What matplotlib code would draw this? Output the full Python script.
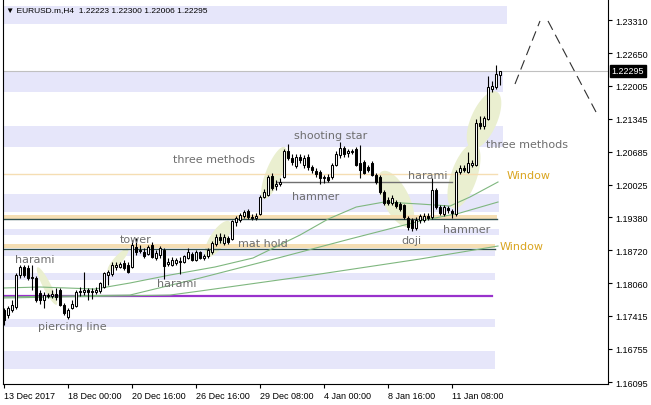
import numpy as np
import matplotlib.pyplot as plt
from matplotlib.patches import Polygon

# EURUSD H4 candles
opens = [1.1753, 1.1743, 1.1753, 1.1759, 1.1823, 1.1839, 1.1837, 1.1819, 1.1817, 1.1787,
         1.1773, 1.1783, 1.1781, 1.1785, 1.1793, 1.1763, 1.1739, 1.1757, 1.1761, 1.1789,
         1.1789, 1.1793, 1.1789, 1.1789, 1.1791, 1.1799, 1.1823, 1.1825, 1.1839, 1.1839,
         1.1847, 1.1843, 1.1839, 1.1879, 1.1873, 1.1869, 1.1865, 1.1883, 1.1857, 1.1863,
         1.1873, 1.1845, 1.1843, 1.1847, 1.1851, 1.1849, 1.1857, 1.1865, 1.1853, 1.1869,
         1.1857, 1.1861, 1.1869, 1.1885, 1.1899, 1.1887, 1.1897, 1.1895, 1.1929, 1.1933,
         1.1941, 1.1951, 1.1939, 1.1937, 1.1945, 1.1979, 1.1983, 1.2021, 1.2001, 1.2005,
         1.2019, 1.2069, 1.2057, 1.2041, 1.2059, 1.2043, 1.2059, 1.2039, 1.2031, 1.2029,
         1.2017, 1.2019, 1.2019, 1.2043, 1.2061, 1.2075, 1.2065, 1.2067, 1.2073, 1.2047,
         1.2049, 1.2039, 1.2047, 1.2023, 1.2019, 1.1989, 1.1973, 1.1967, 1.1969, 1.1965,
         1.1963, 1.1937, 1.1933, 1.1917, 1.1933, 1.1933, 1.1941, 1.1939, 1.1993, 1.1959,
         1.1945, 1.1957, 1.1951, 1.1945, 1.2029, 1.2037, 1.2029, 1.2043, 1.2043, 1.2125,
         1.2119, 1.2133, 1.2193, 1.2197, 1.22223]
highs = [1.1757, 1.1761, 1.1773, 1.1827, 1.1843, 1.1843, 1.1843, 1.1843, 1.1821, 1.1793,
         1.1789, 1.1787, 1.1793, 1.1797, 1.1797, 1.1767, 1.1757, 1.1773, 1.1793, 1.1799,
         1.1829, 1.1797, 1.1797, 1.1799, 1.1809, 1.1829, 1.1833, 1.1849, 1.1849, 1.1849,
         1.1853, 1.1849, 1.1893, 1.1897, 1.1883, 1.1877, 1.1883, 1.1889, 1.1873, 1.1881,
         1.1877, 1.1857, 1.1859, 1.1857, 1.1859, 1.1863, 1.1877, 1.1869, 1.1873, 1.1871,
         1.1865, 1.1877, 1.1891, 1.1905, 1.1907, 1.1905, 1.1901, 1.1933, 1.1941, 1.1947,
         1.1953, 1.1955, 1.1945, 1.1947, 1.1983, 1.1995, 1.2023, 1.2027, 1.2013, 1.2017,
         1.2073, 1.2083, 1.2063, 1.2063, 1.2063, 1.2061, 1.2063, 1.2043, 1.2037, 1.2033,
         1.2023, 1.2025, 1.2047, 1.2069, 1.2087, 1.2079, 1.2073, 1.2073, 1.2077, 1.2081,
         1.2053, 1.2043, 1.2051, 1.2027, 1.2023, 1.1993, 1.1979, 1.1983, 1.1973, 1.1969,
         1.1965, 1.1941, 1.1937, 1.1939, 1.1945, 1.1947, 1.1947, 1.2017, 1.1997, 1.1963,
         1.1963, 1.1961, 1.1955, 1.2033, 1.2043, 1.2043, 1.2067, 1.2053, 1.2133, 1.2139,
         1.2139, 1.2219, 1.2209, 1.2241, 1.22300]
lows = [1.1723, 1.1737, 1.1749, 1.1755, 1.1817, 1.1819, 1.1813, 1.1793, 1.1769, 1.1765,
        1.1757, 1.1777, 1.1777, 1.1773, 1.1761, 1.1743, 1.1735, 1.1755, 1.1759, 1.1781,
        1.1783, 1.1773, 1.1775, 1.1785, 1.1787, 1.1797, 1.1803, 1.1821, 1.1833, 1.1837,
        1.1833, 1.1827, 1.1837, 1.1863, 1.1867, 1.1857, 1.1863, 1.1857, 1.1853, 1.1857,
        1.1815, 1.1841, 1.1841, 1.1843, 1.1825, 1.1847, 1.1855, 1.1851, 1.1851, 1.1855,
        1.1853, 1.1857, 1.1865, 1.1881, 1.1887, 1.1883, 1.1885, 1.1893, 1.1921, 1.1929,
        1.1937, 1.1935, 1.1933, 1.1933, 1.1943, 1.1977, 1.1981, 1.1993, 1.1993, 1.2001,
        1.2017, 1.2053, 1.2043, 1.2037, 1.2047, 1.2037, 1.2033, 1.2027, 1.2019, 1.2005,
        1.2007, 1.2009, 1.2015, 1.2041, 1.2057, 1.2059, 1.2059, 1.2063, 1.2041, 1.2017,
        1.2025, 1.2029, 1.2021, 1.2005, 1.1985, 1.1963, 1.1963, 1.1963, 1.1957, 1.1951,
        1.1935, 1.1913, 1.1911, 1.1913, 1.1927, 1.1929, 1.1933, 1.1935, 1.1955, 1.1943,
        1.1941, 1.1947, 1.1937, 1.1941, 1.2025, 1.2029, 1.2027, 1.2039, 1.2041, 1.2113,
        1.2113, 1.2131, 1.2187, 1.2193, 1.22006]
closes = [1.1733, 1.1757, 1.1763, 1.1823, 1.1839, 1.1823, 1.1817, 1.1817, 1.1773, 1.1773,
          1.1783, 1.1781, 1.1785, 1.1779, 1.1763, 1.1747, 1.1753, 1.1765, 1.1789, 1.1791,
          1.1793, 1.1789, 1.1791, 1.1793, 1.1807, 1.1827, 1.1829, 1.1843, 1.1843, 1.1845,
          1.1837, 1.1829, 1.1883, 1.1869, 1.1871, 1.1861, 1.1879, 1.1859, 1.1867, 1.1877,
          1.1841, 1.1849, 1.1853, 1.1853, 1.1849, 1.1861, 1.1869, 1.1853, 1.1869, 1.1857,
          1.1861, 1.1873, 1.1887, 1.1899, 1.1893, 1.1899, 1.1889, 1.1931, 1.1937, 1.1943,
          1.1949, 1.1939, 1.1937, 1.1941, 1.1979, 1.1989, 1.2019, 1.1997, 1.2005, 1.2009,
          1.2069, 1.2057, 1.2049, 1.2059, 1.2053, 1.2057, 1.2039, 1.2033, 1.2025, 1.2017,
          1.2019, 1.2013, 1.2043, 1.2063, 1.2075, 1.2063, 1.2069, 1.2069, 1.2043, 1.2033,
          1.2027, 1.2033, 1.2023, 1.2009, 1.1989, 1.1967, 1.1967, 1.1977, 1.1961, 1.1955,
          1.1939, 1.1919, 1.1917, 1.1933, 1.1941, 1.1941, 1.1937, 1.1993, 1.1959, 1.1947,
          1.1959, 1.1953, 1.1947, 1.2029, 1.2037, 1.2033, 1.2047, 1.2047, 1.2125, 1.2119,
          1.2135, 1.2197, 1.2199, 1.2223, 1.22295]

xtick_pos = [0, 16, 32, 48, 64, 80, 96, 112]
xtick_labels = ['13 Dec 2017', '18 Dec 00:00', '20 Dec 16:00', '26 Dec 16:00',
                '29 Dec 08:00', '4 Jan 00:00', '8 Jan 16:00', '11 Jan 08:00']
yticks = [1.16095, 1.16755, 1.17415, 1.18060, 1.18720, 1.19380,
          1.20025, 1.20685, 1.21345, 1.22005, 1.22650, 1.23310]

# moving averages, sampled (bar index, price)
ma1_x = [-0.3, 8.95, 22.7, 31.45, 41.45, 52.7, 62.2, 73.95, 81.0, 88.0, 95.0, 103.95, 111.45, 116.45, 123.45]
ma1_y = [1.17969, 1.17989, 1.17949, 1.18069, 1.18228, 1.18388, 1.18567, 1.19025, 1.19344,
         1.19583, 1.19683, 1.19643, 1.19603, 1.19783, 1.20082]
ma2_x = [-0.3, 31.45, 48.95, 68.45, 86.45, 103.95, 113.95, 123.45]
ma2_y = [1.17790, 1.17829, 1.18168, 1.18567, 1.18946, 1.19304, 1.19464, 1.19683]
ma3_x = [-0.3, 41.45, 48.95, 73.95, 103.95, 123.45]
ma3_y = [1.17770, 1.17829, 1.17909, 1.18188, 1.18547, 1.18806]

# lavender zones: (low, high, right end in bars)
zones = [(1.23231, 1.23589, 125.7), (1.21875, 1.22274, 124.7), (1.20779, 1.21198, 124.7),
         (1.19484, 1.19842, 123.7), (1.19025, 1.19145, 123.7), (1.18607, 1.18707, 122.7),
         (1.18128, 1.18268, 122.7), (1.17192, 1.17351, 122.7), (1.16354, 1.16713, 122.7)]
# gaps ("Window"): tan band + dark edge line
windows = [(1.19354, 1.19424, 1.19344, 123.2), (1.18766, 1.18846, 1.18756, 122.7)]

last_price = 1.22295

labels = [('harami', 2.7, 1.18547), ('tower', 28.95, 1.18946), ('piercing line', 8.45, 1.17212),
          ('harami', 38.2, 1.18069), ('three methods', 42.2, 1.20540), ('mat hold', 58.45, 1.18866),
          ('shooting star', 72.45, 1.21018), ('hammer', 71.95, 1.19803), ('harami', 100.95, 1.20221),
          ('doji', 99.2, 1.18926), ('hammer', 109.7, 1.19145), ('three methods', 120.45, 1.20839)]

# highlights: center bar, center price, length px, width px, angle deg
highlights = [(10.7, 1.18009, 42, 8, -63), (28.45, 1.18527, 30, 8, 48),
              (53.45, 1.18946, 42, 16, 57), (67.45, 1.20261, 56, 16, 68),
              (97.95, 1.19743, 62, 26, -63), (114.95, 1.20201, 68, 26, 71),
              (119.95, 1.21317, 62, 26, 66)]

plt.rcParams['font.family'] = ['Liberation Sans', 'DejaVu Sans']

fig = plt.figure(figsize=(6.51, 4.06), dpi=100)
ax = fig.add_axes([3 / 651, 21 / 406, 605 / 651, 385 / 406])
ax.set_xlim(-0.3, 150.95)
ax.set_ylim(1.16056, 1.23729)

for lo, hi, xr in zones:
    ax.fill_between([-0.3, xr], lo, hi, color='#E6E6FA', lw=0, zorder=0)

def highlight(ci, cp, length, width, angle):
    cx, cy = ax.transData.transform((ci, cp))
    t = np.linspace(0, 2 * np.pi, 80)
    a = np.radians(angle)
    ex = length / 2 * np.cos(t)
    ey = width / 2 * np.sin(t)
    px = cx + ex * np.cos(a) - ey * np.sin(a)
    py = cy + ex * np.sin(a) + ey * np.cos(a)
    pts = ax.transData.inverted().transform(np.column_stack([px, py]))
    ax.add_patch(Polygon(pts, closed=True, facecolor='#EAEFD0', edgecolor='none', zorder=1))

for h in highlights:
    highlight(*h)

for lo, hi, edge, xr in windows:
    ax.fill_between([-0.3, xr], lo, hi, color='#F5DEB3', lw=0, zorder=1)
    ax.plot([-0.3, xr], [edge, edge], color='#2F4F4F', lw=1, zorder=2)
ax.plot([-0.3, 123.2], [1.20241, 1.20241], color='#F5DEB3', lw=1, zorder=1)

ax.axhline(last_price, color='#C0C0C0', lw=0.8, zorder=1)
ax.plot([68.2, 112.0], [1.20082, 1.20082], color='#707070', lw=1, zorder=2)
ax.plot([-0.3, 121.95], [1.17810, 1.17810], color='#9932CC', lw=1.6, zorder=2)

for mx, my in [(ma1_x, ma1_y), (ma2_x, ma2_y), (ma3_x, ma3_y)]:
    ax.plot(mx, my, color='#7FB77F', lw=0.8, zorder=2)

# forecast zigzag
ax.plot([127.7, 133.95], [1.22035, 1.23291], color='#303030', lw=0.8, ls=(0, (9, 5)), zorder=2)
ax.plot([135.95, 147.95], [1.23291, 1.21477], color='#303030', lw=0.8, ls=(0, (9, 5)), zorder=2)

# candles
idx = np.arange(len(opens))
o = np.array(opens)
c = np.array(closes)
ax.vlines(idx, lows, highs, color='black', lw=0.8, zorder=3)
up = c >= o
body_lo = np.minimum(o, c)
body_h = np.maximum(np.abs(c - o), 0.00005)
ax.bar(idx[up], body_h[up], bottom=body_lo[up], width=0.62, facecolor='white',
       edgecolor='black', lw=0.75, zorder=4)
ax.bar(idx[~up], body_h[~up], bottom=body_lo[~up], width=0.62, facecolor='black',
       edgecolor='black', lw=0.75, zorder=4)

for text, lx, ly in labels:
    ax.text(lx, ly, text, fontsize=8, color='#6E6E6E', va='center', ha='left',
            family='DejaVu Sans', zorder=5)
ax.text(125.7, 1.20221, 'Window', fontsize=8, color='#DAA520', va='center',
        family='DejaVu Sans', zorder=5)
ax.text(123.95, 1.18806, 'Window', fontsize=8, color='#DAA520', va='center',
        family='DejaVu Sans', zorder=5)

ax.text(0.005, 0.972, '\u25BC EURUSD.m,H4  1.22223 1.22300 1.22006 1.22295',
        transform=ax.transAxes, fontsize=6, va='center', ha='left', zorder=6)

ax.spines['top'].set_visible(False)
for s in ['left', 'right', 'bottom']:
    ax.spines[s].set_linewidth(0.8)
ax.yaxis.tick_right()
ax.set_yticks(yticks)
ax.set_yticklabels([f'{v:.5f}' for v in yticks])
ax.set_xticks(xtick_pos)
ax.set_xticklabels(xtick_labels)
for lab in ax.get_xticklabels():
    lab.set_ha('left')
ax.tick_params(axis='both', direction='out', length=3, width=0.8, labelsize=6.5, pad=2)

ax.text(1.006, last_price, f'{last_price:.5f}', transform=ax.get_yaxis_transform(),
        fontsize=6.5, color='white', va='center', ha='left', zorder=7,
        bbox=dict(facecolor='black', edgecolor='black', pad=1.2))

fig.savefig('out.png', dpi=100)
